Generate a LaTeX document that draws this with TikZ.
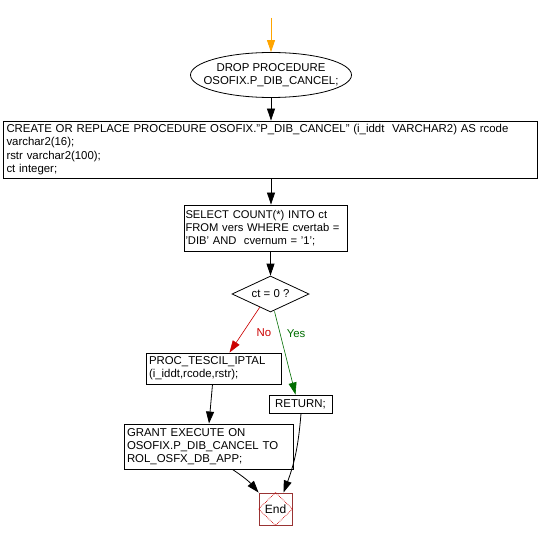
\documentclass[tikz,border=0pt]{standalone}
\usepackage{fontspec}
\setmainfont{Liberation Sans}
\usetikzlibrary{shapes.geometric,arrows.meta,calc}
\definecolor{flowred}{RGB}{204,0,0}
\definecolor{flowgreen}{RGB}{0,110,0}
\definecolor{floworange}{RGB}{255,165,0}
\definecolor{enddark}{RGB}{153,51,51}
\begin{document}
\begin{tikzpicture}[x=1pt,y=-1pt,
  every node/.style={font=\fontsize{11.4}{13.2}\selectfont},
  box/.style={draw,rectangle,inner sep=0pt,align=left,line width=0.9pt},
  arr/.style={-{Triangle[length=12pt,width=8pt]},line width=0.8pt},
  lbl/.style={font=\fontsize{11.4}{13.2}\selectfont}]
\useasboundingbox (0,0) rectangle (540,540);
\fill[white] (0,0) rectangle (540,540);
\coordinate (start) at (271,18);
\node[draw,ellipse,minimum width=161,minimum height=45,inner xsep=-13pt,inner ysep=2pt,align=center,line width=0.8pt] (drop) at (271,75) {DROP PROCEDURE\\OSOFIX.P\_DIB\_CANCEL;};
\node[box,minimum width=534,minimum height=57,text width=527,anchor=center] (create) at (270,149.5)
 {CREATE OR REPLACE PROCEDURE OSOFIX."P\_DIB\_CANCEL" (i\_iddt\ \ VARCHAR2) AS rcode\\varchar2(16);\\rstr varchar2(100);\\ct integer;};
\node[box,minimum width=163,minimum height=46,text width=160,font=\fontsize{11.2}{13}\selectfont] (select) at (265.5,228)
 {SELECT COUNT(*) INTO ct\\FROM vers WHERE cvertab =\\'DIB' AND\ \ cvernum = '1';};
\node[draw,diamond,minimum width=77,minimum height=36,inner sep=0pt,shape aspect=2.1,line width=0.8pt] (dec) at (270.5,294) {ct = 0 ?};
\node[box,minimum width=135,minimum height=31,text width=129] (proc) at (213.5,368.5)
 {PROC\_TESCIL\_IPTAL\\(i\_iddt,rcode,rstr);};
\node[box,minimum width=63,minimum height=18,align=center] (ret) at (300.5,404) {RETURN;};
\node[box,minimum width=169,minimum height=45,text width=163] (grant) at (208.5,446.5)
 {GRANT EXECUTE ON\\OSOFIX.P\_DIB\_CANCEL TO\\ROL\_OSFX\_DB\_APP;};
\node[draw=enddark,rectangle,minimum width=33,minimum height=32,inner sep=0pt,line width=0.9pt,font=\fontsize{12}{14}\selectfont] (end) at (275.5,509) {End};
\draw[flowred,densely dotted,line width=0.7pt] (end.north) -- (end.east) -- (end.south) -- (end.west) -- cycle;
\draw[arr,floworange] (start) -- (drop.north);
\draw[arr] (drop.south) -- (drop.south |- create.north);
\draw[arr] (create.south -| drop.south) -- (drop.south |- select.north);
\draw[arr] (dec.north |- select.south) -- (dec.north);
\draw[arr,flowred,line width=0.6pt] (dec.231) -- node[lbl,flowred,right=10pt,pos=0.55] {No} ($(proc.north)+(16,0)$);
\draw[arr,flowgreen,line width=0.6pt] (dec.south) ++(4,-1) coordinate (ys) (ys) -- node[lbl,flowgreen,right=3pt,pos=0.27] {Yes} ($(ret.north)+(-5,0)$);
\draw[arr] ($(proc.south)+(-1,0)$) -- ($(grant.north)+(0.5,0)$);
\draw[arr] ($(grant.south)+(24,0)$) to[bend left=8] (end.north west);
\draw[arr] ($(ret.south)+(0.5,0)$) to[bend left=8] ($(end.north)+(8,0)$);
\end{tikzpicture}
\end{document}
